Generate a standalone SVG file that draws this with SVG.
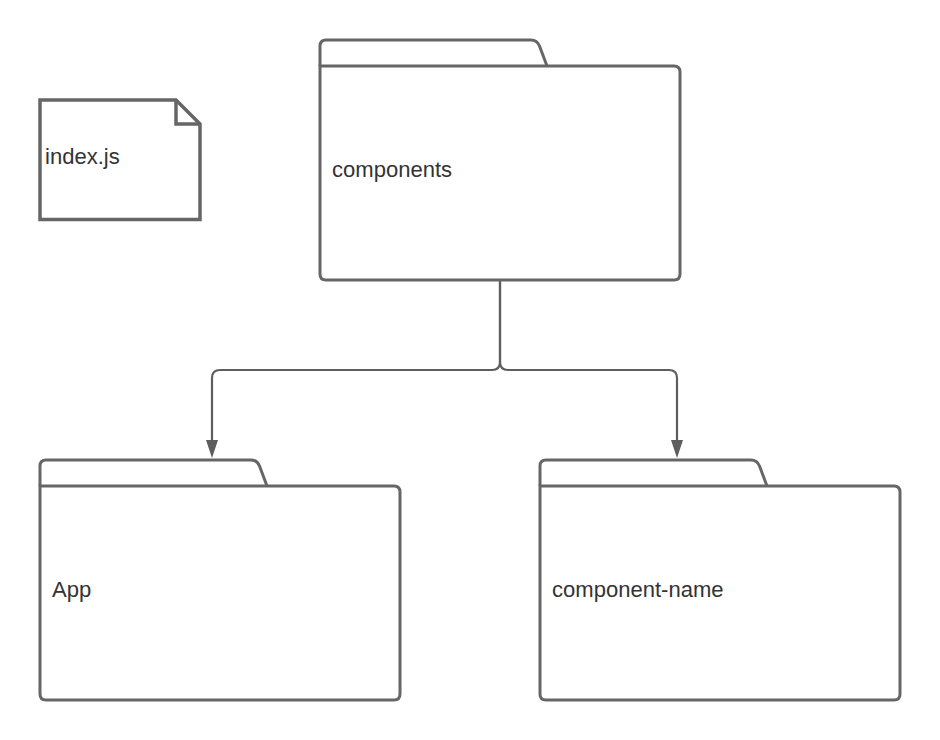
<svg xmlns="http://www.w3.org/2000/svg" width="940" height="740" viewBox="0 0 940 740">
<style>
.s{fill:none;stroke:#666;stroke-width:3.500;stroke-linejoin:miter}
.b{fill:#fff;stroke:#666;stroke-width:3}
.d{fill:#fff;stroke:#666;stroke-width:3.500}
.c{fill:none;stroke:#5e5e5e;stroke-width:2.200}
text{font-family:"Liberation Sans",Arial,sans-serif;font-size:22.050px;fill:#333}
</style>
<defs>
<g id="folder">
<path class="b" d="M0 26V6Q0 0 6 0H211Q217 0 219.500 6L227 26"/>
<path class="b" d="M0 26H354Q360 26 360 32V234Q360 240 354 240H6Q0 240 0 234Z"/>
</g>
</defs>
<rect width="940" height="740" fill="#fff"/>
<g id="connectors">
<path class="c" d="M500 281V362Q500 370 492 370H220Q212 370 212 378V444"/>
<path class="c" d="M500 281V362Q500 370 508 370H669Q677 370 677 378V444"/>
<path d="M206 440H218L212 458Z M671 440H683L677 458Z" fill="#5e5e5e"/>
</g>
<g id="index-js">
<path class="d" d="M40 100H176L200 124V219.500H40Z"/>
<path class="s" d="M176 100V124H200"/>
<text x="45" y="164">index.js</text>
</g>
<g id="components">
<use href="#folder" x="320" y="40"/>
<text x="332" y="177">components</text>
</g>
<g id="app">
<use href="#folder" x="40" y="460"/>
<text x="52" y="597">App</text>
</g>
<g id="component-name">
<use href="#folder" x="540" y="460"/>
<text x="552" y="597">component-name</text>
</g>
</svg>
